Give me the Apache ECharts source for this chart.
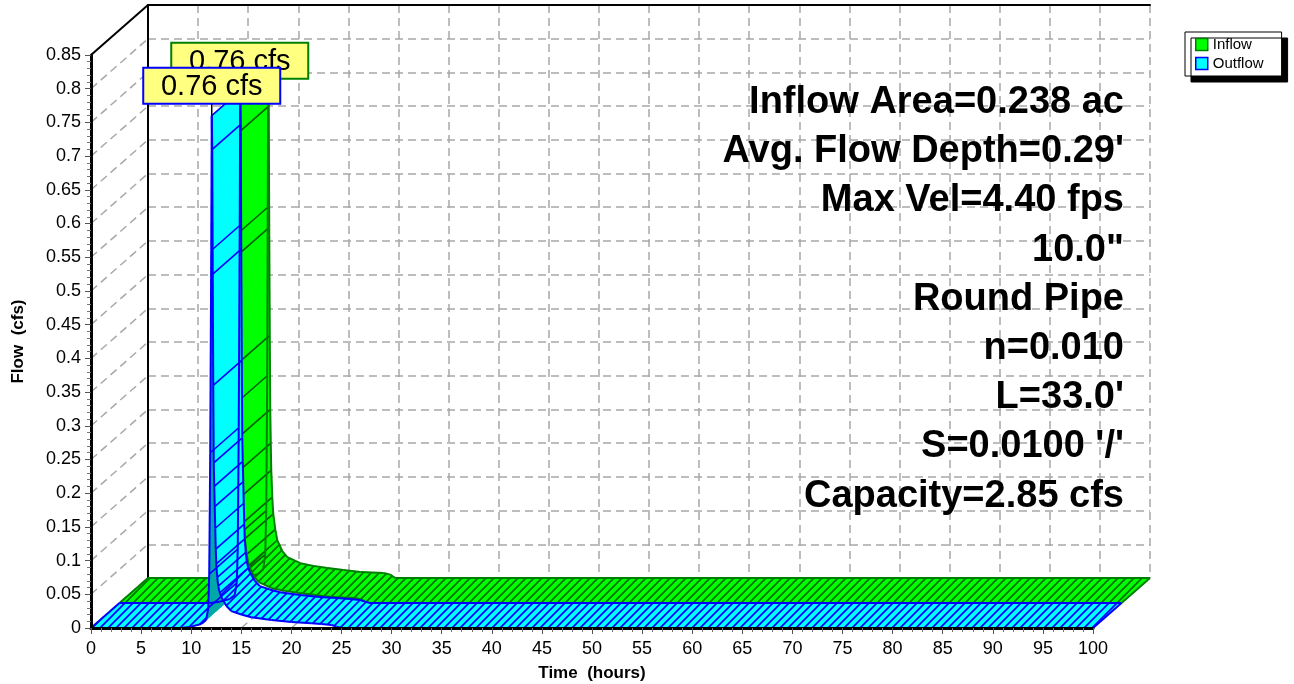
<!DOCTYPE html>
<html>
<head>
<meta charset="utf-8">
<script src="https://cdn.jsdelivr.net/npm/echarts@6/dist/echarts.min.js"></script>
<style>
html,body{margin:0;padding:0;background:#fff;}
#chart{width:1294px;height:684px;}
</style>
</head>
<body>
<div id="chart"></div>
<script>
// ---------------- data ----------------
const xTicks = [0,5,10,15,20,25,30,35,40,45,50,55,60,65,70,75,80,85,90,95,100];
const yTicks = [0,0.05,0.1,0.15,0.2,0.25,0.3,0.35,0.4,0.45,0.5,0.55,0.6,0.65,0.7,0.75,0.8,0.85];

const inflowTime = [0, 9.0, 10.0, 11.0, 11.5, 11.7, 11.8, 11.9, 11.95, 12.0, 12.05, 12.1, 12.15, 12.2, 12.25, 12.3, 12.4, 12.5, 12.7, 12.9, 13.4, 13.9, 15.2, 16.5, 17.9, 19.5, 21.2, 23.5, 24.2, 24.5, 24.7, 100];
const inflowFlow = [0, 0, 0.002, 0.006, 0.013, 0.035, 0.10, 0.30, 0.55, 0.76, 0.70, 0.52, 0.36, 0.25, 0.20, 0.16, 0.12, 0.095, 0.072, 0.056, 0.040, 0.031, 0.022, 0.018, 0.015, 0.012, 0.009, 0.0074, 0.005, 0.0015, 0, 0];

const outflowTime = [0, 9.0, 10.0, 11.0, 11.5, 11.7, 11.8, 11.9, 12.0, 12.05, 12.1, 12.15, 12.2, 12.25, 12.3, 12.35, 12.4, 12.45, 12.5, 12.6, 12.7, 12.85, 13.0, 13.5, 14.0, 15.0, 16.0, 18.0, 20.0, 22.0, 23.0, 24.0, 24.5, 25.0, 100];
const outflowFlow = [0, 0, 0.002, 0.006, 0.012, 0.030, 0.08, 0.26, 0.56, 0.76, 0.71, 0.525, 0.36, 0.245, 0.21, 0.18, 0.148, 0.117, 0.095, 0.075, 0.062, 0.052, 0.046, 0.033, 0.025, 0.020, 0.016, 0.012, 0.009, 0.007, 0.006, 0.0045, 0.002, 0, 0];

const peakLabelText = ['0.76 cfs', '0.76 cfs']; // inflow, outflow
const noteLines = ['Inflow Area=0.238 ac', "Avg. Flow Depth=0.29'", 'Max Vel=4.40 fps', '10.0"', 'Round Pipe', 'n=0.010', "L=33.0'", "S=0.0100 '/'", 'Capacity=2.85 cfs'];

// ---------------- style constants ----------------
const DX = 57, DY = 50;           // full depth offset in px (back plane)
const FONT = 'Liberation Sans, Arial, Helvetica, sans-serif';
const DASH = [8, 5];
const GRIDC = '#a8a8a8';

function hatch(bg, fg, w) {
  const c = document.createElement('canvas');
  c.width = 8; c.height = 8;
  const g = c.getContext('2d');
  g.fillStyle = bg; g.fillRect(0, 0, 8, 8);
  g.strokeStyle = fg; g.lineWidth = w;
  g.beginPath(); g.moveTo(-2, 10); g.lineTo(10, -2); g.stroke();
  g.beginPath(); g.moveTo(-2, 2); g.lineTo(2, -2); g.stroke();
  g.beginPath(); g.moveTo(6, 10); g.lineTo(10, 6); g.stroke();
  return { image: c, repeat: 'repeat' };
}

const STY = {
  inflow:  { slot: [0.5, 1.0], fill: '#00ff00', dark: '#00a800', edge: '#008000', line: '#006000', pat: hatch('#00ff00', '#007000', 1.7) },
  outflow: { slot: [0.0, 0.5], fill: '#00ffff', dark: '#00a8a8', edge: '#0000ff', line: '#0000ff', pat: hatch('#00ffff', '#0000ff', 1.7) }
};

function off(p, z) { return [p[0] + z * DX, p[1] - z * DY]; }

function ribbon(sty) {
  return function (params, api) {
    const i = params.dataIndex;
    const n = params.dataInsideLength;
    const children = [];
    const z0 = sty.slot[0], z1 = sty.slot[1];
    const a = api.coord([api.value(0, i), api.value(1, i)]);
    if (i === 0) {
      children.push({ type: 'line', shape: { x1: off(a, z0)[0], y1: off(a, z0)[1], x2: off(a, z1)[0], y2: off(a, z1)[1] }, style: { stroke: sty.edge, lineWidth: 2 }, z2: 5 });
    }
    if (i >= n - 1) return { type: 'group', children: children };
    const b = api.coord([api.value(0, i + 1), api.value(1, i + 1)]);
    const fa = off(a, z0), fb = off(b, z0), ba = off(a, z1), bb = off(b, z1);
    const sdx = fb[0] - fa[0], sdy = fb[1] - fa[1];
    const vx = DX * (z1 - z0), vy = -DY * (z1 - z0);
    const cross = sdx * vy - sdy * vx;
    const under = cross > 0;
    const steep = Math.abs(sdy) > 3 * Math.abs(sdx);
    let fill;
    if (under) fill = sty.dark;
    else if (steep) fill = sty.fill;
    else fill = sty.pat;
    children.push({ type: 'polygon', shape: { points: [fa, fb, bb, ba] }, style: { fill: fill, stroke: fill, lineWidth: 0.6 }, z2: 1 });
    children.push({ type: 'line', shape: { x1: fa[0], y1: fa[1], x2: fb[0], y2: fb[1] }, style: { stroke: sty.edge, lineWidth: 2 }, z2: 3 });
    children.push({ type: 'line', shape: { x1: ba[0], y1: ba[1], x2: bb[0], y2: bb[1] }, style: { stroke: sty.edge, lineWidth: 2 }, z2: 3 });
    if (steep || under || i + 1 === n - 1) {
      children.push({ type: 'line', shape: { x1: fb[0], y1: fb[1], x2: bb[0], y2: bb[1] }, style: { stroke: (i + 1 === n - 1) ? sty.edge : sty.line, lineWidth: (i + 1 === n - 1) ? 2 : 1.6 }, z2: 2 });
    }
    return { type: 'group', children: children };
  };
}

function peakOf(ts, qs) {
  let k = 0;
  for (let j = 1; j < qs.length; j++) if (qs[j] > qs[k]) k = j;
  return [ts[k], qs[k]];
}

function labelRender(sty, text, border) {
  return function (params, api) {
    const p = off(api.coord([api.value(0), api.value(1)]), sty.slot[0]);
    const w = 137, h = 36, gap = 12;
    const x = p[0] - w / 2, y = p[1] - gap - h;
    return {
      type: 'group',
      children: [
        { type: 'line', shape: { x1: p[0], y1: p[1] - gap, x2: p[0], y2: p[1] }, style: { stroke: '#000', lineWidth: 1.5 } },
        { type: 'rect', shape: { x: x, y: y, width: w, height: h }, style: { fill: '#ffff80', stroke: border, lineWidth: 2 } },
        { type: 'text', style: { text: text, x: p[0], y: y + h / 2 + 1, align: 'center', verticalAlign: 'middle', font: '29px ' + FONT, fill: '#000' } }
      ]
    };
  };
}

const chart = echarts.init(document.getElementById('chart'), null, { renderer: 'canvas' });

const graphicTexts = noteLines.map((t, k) => ({
  type: 'text', z: 20,
  style: { text: t, x: 1124, y: 102.5 + k * 49.2, align: 'right', verticalAlign: 'middle', font: 'bold 38px ' + FONT, fill: '#000' }
}));

const option = {
  animation: false,
  backgroundColor: '#ffffff',
  grid: [
    { left: 91, top: 55, width: 1002, height: 573, containLabel: false, outerBoundsMode: 'none' },
    { left: 148, top: 5, width: 1002, height: 573, containLabel: false, outerBoundsMode: 'none' }
  ],
  xAxis: [
    {
      gridIndex: 0, type: 'value', min: 0, max: 100, interval: 5, z: 8,
      name: 'Time  (hours)', nameLocation: 'middle', nameGap: 37,
      nameTextStyle: { fontFamily: FONT, fontWeight: 'bold', fontSize: 17, color: '#000' },
      axisLine: { show: true, onZero: false, lineStyle: { color: '#000', width: 3 } },
      axisTick: { show: true, length: 6, lineStyle: { color: '#555', width: 1 } },
      minorTick: { show: true, splitNumber: 5, length: 4, lineStyle: { color: '#777', width: 1 } },
      axisLabel: { margin: 12, fontFamily: FONT, fontSize: 18, color: '#000' },
      splitLine: { show: false }
    },
    {
      gridIndex: 1, type: 'value', min: 0, max: 100, interval: 5, position: 'top',
      axisLine: { show: true, onZero: false, lineStyle: { color: '#000', width: 2 } },
      axisTick: { show: false }, axisLabel: { show: false },
      splitLine: { show: true, lineStyle: { color: GRIDC, type: DASH, width: 1.5 } }
    }
  ],
  yAxis: [
    {
      gridIndex: 0, type: 'value', min: 0, max: 0.85, interval: 0.05, z: 8,
      name: 'Flow  (cfs)', nameLocation: 'middle', nameGap: 64, nameRotate: 90,
      nameTextStyle: { fontFamily: FONT, fontWeight: 'bold', fontSize: 17, color: '#000' },
      axisLine: { show: true, onZero: false, lineStyle: { color: '#000', width: 3 } },
      axisTick: { show: true, length: 6, lineStyle: { color: '#555', width: 1 } },
      minorTick: { show: true, splitNumber: 5, length: 4, lineStyle: { color: '#777', width: 1 } },
      axisLabel: { margin: 10, fontFamily: FONT, fontSize: 18, color: '#000', formatter: v => String(+v.toFixed(2)) },
      splitLine: { show: false }
    },
    {
      gridIndex: 1, type: 'value', min: 0, max: 0.85, interval: 0.05,
      axisLine: { show: true, onZero: false, lineStyle: { color: '#000', width: 2 } },
      axisTick: { show: false }, axisLabel: { show: false },
      splitLine: { show: true, lineStyle: { color: GRIDC, type: DASH, width: 1.5 } }
    }
  ],
  legend: {
    left: 1185, top: 32, orient: 'vertical', selectedMode: false,
    itemWidth: 12, itemHeight: 12, itemGap: 4, padding: [5, 18, 5, 10],
    backgroundColor: '#fff', borderColor: '#000', borderWidth: 1,
    shadowColor: '#000', shadowOffsetX: 6, shadowOffsetY: 6, shadowBlur: 0,
    textStyle: { fontFamily: FONT, fontSize: 15, color: '#000' },
    data: [
      { name: 'Inflow', icon: 'rect', itemStyle: { color: '#00ff00', borderColor: '#008000', borderWidth: 1.5 } },
      { name: 'Outflow', icon: 'rect', itemStyle: { color: '#00ffff', borderColor: '#0000ff', borderWidth: 1.5 } }
    ]
  },
  graphic: graphicTexts,
  series: [
    {
      type: 'custom', name: 'leftwall', xAxisIndex: 0, yAxisIndex: 0, z: 1, clip: false, silent: true,
      data: yTicks.map(q => [0, q]),
      renderItem: function (params, api) {
        const p = api.coord([api.value(0), api.value(1)]);
        const top = params.dataIndex === yTicks.length - 1;
        return { type: 'line', shape: { x1: p[0], y1: p[1], x2: p[0] + DX, y2: p[1] - DY },
          style: top ? { stroke: '#000', lineWidth: 2 } : { stroke: GRIDC, lineWidth: 1.5, lineDash: DASH } };
      }
    },
    {
      type: 'custom', name: 'floor', xAxisIndex: 0, yAxisIndex: 0, z: 1, clip: false, silent: true,
      data: xTicks.map(t => [t, 0]),
      renderItem: function (params, api) {
        const p = api.coord([api.value(0), api.value(1)]);
        return { type: 'line', shape: { x1: p[0], y1: p[1], x2: p[0] + DX, y2: p[1] - DY },
          style: { stroke: GRIDC, lineWidth: 1.5, lineDash: DASH } };
      }
    },
    {
      type: 'custom', name: 'Inflow', xAxisIndex: 0, yAxisIndex: 0, z: 2, clip: false,
      itemStyle: { color: '#00ff00', borderColor: '#008000' },
      data: inflowTime.map((t, k) => [t, inflowFlow[k]]),
      renderItem: ribbon(STY.inflow)
    },
    {
      type: 'custom', name: 'Outflow', xAxisIndex: 0, yAxisIndex: 0, z: 3, clip: false,
      itemStyle: { color: '#00ffff', borderColor: '#0000ff' },
      data: outflowTime.map((t, k) => [t, outflowFlow[k]]),
      renderItem: ribbon(STY.outflow)
    },
    {
      type: 'custom', name: 'inPeak', xAxisIndex: 0, yAxisIndex: 0, z: 4, clip: false, silent: true,
      data: [peakOf(inflowTime, inflowFlow)],
      renderItem: labelRender(STY.inflow, peakLabelText[0], '#008000')
    },
    {
      type: 'custom', name: 'outPeak', xAxisIndex: 0, yAxisIndex: 0, z: 5, clip: false, silent: true,
      data: [peakOf(outflowTime, outflowFlow)],
      renderItem: labelRender(STY.outflow, peakLabelText[1], '#0000ff')
    }
  ]
};
chart.setOption(option);
</script>
</body>
</html>
